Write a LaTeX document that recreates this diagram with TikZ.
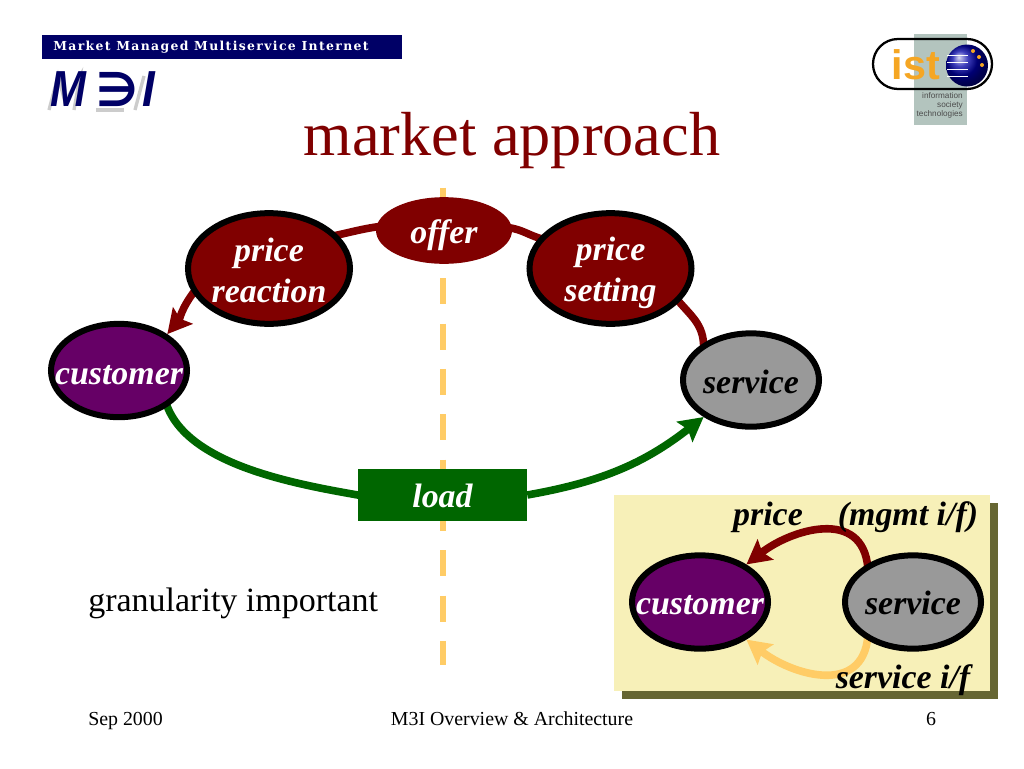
\documentclass[tikz,border=0pt]{standalone}
\usepackage{fontspec}
\setmainfont{Liberation Serif}
\newfontfamily\logofont{DejaVu Sans}
\newfontfamily\barfont{DejaVu Serif}
\newfontfamily\arialfont{Liberation Sans}
\usetikzlibrary{shapes.geometric,arrows.meta,backgrounds}
\definecolor{darkred}{HTML}{800000}
\definecolor{plum}{HTML}{660066}
\definecolor{midgray}{HTML}{999999}
\definecolor{leaf}{HTML}{006600}
\definecolor{dashorange}{HTML}{FFCC66}
\definecolor{cream}{HTML}{F7F0B8}
\definecolor{olive}{HTML}{666633}
\definecolor{navy}{HTML}{000066}
\definecolor{istgray}{HTML}{B3C4BE}
\definecolor{istorange}{HTML}{F5A623}
\tikzset{
  blob/.style={ellipse,draw=black,line width=4.5pt,inner xsep=-45pt,inner ysep=-6pt,align=center,
    font=\fontsize{25.4}{30.8}\selectfont\bfseries\itshape,
    execute at begin node={\rule{0pt}{#1}}},
  blob/.default=20pt,
  lbl/.style={font=\fontsize{25.4}{30}\selectfont\bfseries\itshape,inner sep=0pt},
  foot/.style={font=\fontsize{14.9}{18}\selectfont,inner sep=0pt,anchor=base},
  link/.style={line width=5.7pt,shorten <=-3pt,shorten >=-3pt},
  flow/.style={line width=5.7pt,shorten <=-3pt,-{Stealth[length=18pt,width=19pt,inset=3pt]}},
}
\begin{document}
\begin{tikzpicture}[x=0.75pt,y=-0.75pt]
\useasboundingbox (0,0) rectangle (1024,768);
% header
\fill[navy] (42,35) rectangle (402,59);
\node[text=white,anchor=west,inner sep=0pt,font=\barfont\fontsize{9.3}{12}\selectfont\bfseries] (bartext) at (53,47)
  {\addfontfeature{LetterSpace=11}Market Managed Multiservice Internet};
\draw[gray!40,line width=2.5pt] (49,110) -- (58,76) -- (65,102) -- (80,76) -- (74,110);
\draw[gray!40,line width=2.5pt] (96,110) -- (124,110);
\draw[gray!40,line width=2.5pt] (135,110) -- (144,76);
\node[text=navy,anchor=west,inner sep=0pt,font=\arialfont\fontsize{38}{40}\selectfont\itshape\bfseries] (logo) at (50,89)
  {\scalebox{.85}[1]{M}\hspace{8pt}{\logofont\fontsize{35}{35}\selectfont ∋}\hspace{3pt}\scalebox{.9}[1]{I}};
% ist logo
\fill[istgray] (914,34) rectangle (967,125);
\draw[line width=1.7pt,rounded corners=18.7pt] (873,39) rectangle (992,89);
\shade[ball color=blue!65!black] (967,65.5) circle (21);
\foreach \stary/\starx in {51/973,57/979,65/982}
  \fill[istorange] (\starx,\stary) circle (2);
\foreach \stripe in {55,62,69,76}
  \draw[white,line width=0.7pt] (947,\stripe) -- (968,\stripe);
\node[inner sep=0pt,text=istorange,font=\arialfont\fontsize{31}{32}\selectfont\bfseries] (istword) at (916,65) {ist};
\node[anchor=north east,inner sep=0pt,align=right,text=black!70,font=\arialfont\fontsize{6.15}{6.9}\selectfont] (isttext) at (963,92) {information\\society\\technologies};
% title
\node[text=darkred,inner sep=0pt,font=\fontsize{46.7}{50}\selectfont] (title) at (512,141) {market approach};
% main cycle
\node[blob,fill=darkred,text=white,minimum width=121.5pt,minimum height=83pt] (reaction) at (269,268.5) {\rule{0pt}{21pt}price\\reaction};
\node[blob,fill=darkred,text=white,minimum width=121.5pt,minimum height=83pt] (setting) at (610.5,268.5) {\rule{0pt}{24.5pt}price\\setting};
\node[blob=22pt,fill=plum,text=white,minimum width=102pt,minimum height=70pt] (customer) at (119,370.5) {customer};
\node[blob,fill=midgray,text=black,minimum width=102pt,minimum height=70pt] (service) at (751,380) {service};
\node[ellipse,fill=darkred,text=white,inner sep=0pt,minimum width=102pt,minimum height=50pt,font=\fontsize{25.4}{30}\selectfont\bfseries\itshape,execute at begin node={\rule{0pt}{25pt}}] (offer) at (444,230.5) {offer};
\node[rectangle,fill=leaf,text=white,inner sep=0pt,minimum width=126.75pt,minimum height=39pt,font=\fontsize{25.4}{30}\selectfont\bfseries\itshape,execute at begin node={\rule{0pt}{19pt}}] (load) at (442.5,495) {load};
% inset nodes
\node[blob=19pt,fill=plum,text=white,minimum width=102pt,minimum height=70pt] (custb) at (700,602) {customer};
\node[blob=19pt,fill=midgray,text=black,minimum width=102pt,minimum height=70pt] (servb) at (913,602) {service};
\begin{scope}[on background layer]
\draw[dashorange,line width=5.2pt,dash pattern=on 19.5pt off 14.5pt] (443,187.5) -- (443,665);
\draw[darkred,link] (service.142) to[out=90,in=-50] (setting.-26);
\draw[darkred,link] (setting.157) to[out=165,in=-8] (offer.2);
\draw[darkred,link] (offer.177) to[out=188,in=12] (reaction.26);
\draw[darkred,flow] (reaction.198) to[out=232,in=50] (customer.37);
\draw[leaf,link] (customer.-37) to[out=-72,in=170,looseness=0.75] (load.west);
\draw[leaf,flow,shorten <=0pt] (load.east) to[out=10,in=-142] (service.-142);
\fill[olive] (622,503) rectangle (998,699);
\fill[cream] (614,495) rectangle (990,691);
\draw[darkred,flow] (servb.140) to[out=95,in=38,looseness=1.2] (custb.39);
\draw[dashorange,flow] (servb.-140) to[out=-95,in=-38,looseness=1.2] (custb.-39);
\end{scope}
\node[lbl] (pricelbl) at (768,517) {price};
\node[lbl] (mgmtlbl) at (908,517) {(mgmt i/f)};
\node[lbl] (ifacelbl) at (903,680) {service i/f};
% text
\node[inner sep=0pt,anchor=west,font=\fontsize{25.5}{30}\selectfont] (grain) at (88,603) {granularity important};
\node[foot,anchor=base west] (date) at (88,725) {Sep 2000};
\node[foot] (talk) at (512,725) {M3I Overview \& Architecture};
\node[foot] (page) at (931,725) {6};
\end{tikzpicture}
\end{document}
